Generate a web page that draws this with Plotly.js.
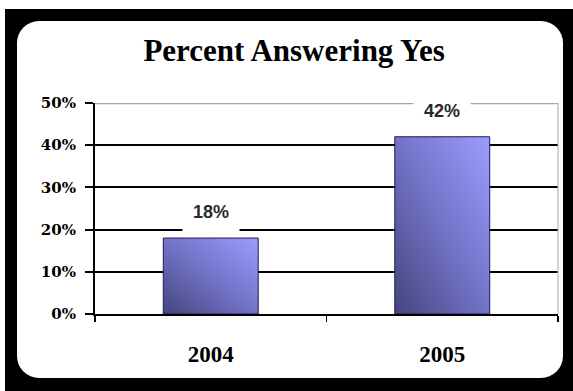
<!DOCTYPE html>
<html>
<head>
<meta charset="utf-8">
<script src="https://cdn.plot.ly/plotly-3.0.1.min.js"></script>
<style>
  html, body { margin: 0; padding: 0; background: #ffffff; width: 573px; height: 391px; overflow: hidden; }
  #frame { position: absolute; left: 5px; top: 9px; width: 568px; height: 382px; background: #000000; }
  #card { position: absolute; left: 17px; top: 21px; width: 546px; height: 357px; background: #ffffff; border-radius: 22px; }
  #chart { position: absolute; left: 0; top: 0; width: 573px; height: 391px; }
</style>
</head>
<body>
<div id="frame"></div>
<div id="card"></div>
<div id="chart"></div>
<script>
// ---- data ----
const categories = ['2004', '2005'];
const values = [18, 42];
const valueLabels = ['18%', '42%'];
const yTickVals = [0, 10, 20, 30, 40, 50];
const yTickText = ['0%', '10%', '20%', '30%', '40%', '50%'];
const chartTitle = 'Percent Answering Yes';

const serif = 'Liberation Serif, Times New Roman, serif';

const trace = {
  type: 'bar',
  x: categories,
  y: values,
  width: 0.41,
  marker: { color: '#7777cc', line: { color: '#1c1c50', width: 1 } },
  hoverinfo: 'none'
};

// category axis: annotation x given as the category index
const annotations = categories.map((c, i) => ({
  x: i, y: values[i], xref: 'x', yref: 'y',
  text: valueLabels[i], showarrow: false,
  yanchor: 'bottom', yshift: 4,
  bgcolor: '#ffffff', width: 54, height: 40, borderpad: 1,
  font: { family: 'Liberation Sans, Arial, sans-serif', size: 18, color: '#2a2a2a', weight: 'bold' }
}));

const layout = {
  width: 573, height: 391,
  margin: { l: 95, r: 15, t: 103, b: 77 },
  paper_bgcolor: 'rgba(0,0,0,0)',
  plot_bgcolor: 'rgba(0,0,0,0)',
  showlegend: false,
  title: {
    text: '<b>' + chartTitle + '</b>',
    font: { family: serif, size: 31, color: '#000000' },
    xref: 'paper', x: 0.43, xanchor: 'center',
    yref: 'container', y: 1 - 50 / 391, yanchor: 'middle'
  },
  xaxis: {
    type: 'category',
    range: [-0.5, categories.length - 0.5],
    showline: true, linecolor: '#000000', linewidth: 2,
    ticks: 'outside', tickson: 'boundaries', ticklen: 6, tickwidth: 1.5, tickcolor: '#000000',
    showgrid: false, zeroline: false,
    tickfont: { family: serif, size: 23, color: '#000000', weight: 'bold' },
    ticklabelstandoff: 18
  },
  yaxis: {
    range: [0, 50],
    tickvals: yTickVals, ticktext: yTickText,
    showline: true, linecolor: '#000000', linewidth: 2,
    ticks: 'outside', ticklen: 8, tickwidth: 2, tickcolor: '#000000',
    showgrid: true, gridcolor: '#000000', gridwidth: 2,
    zeroline: false,
    tickfont: { family: 'DejaVu Serif, serif', size: 15, color: '#000000', weight: 'bold' },
    ticklabelstandoff: 6
  },
  shapes: [
    { type: 'line', xref: 'paper', yref: 'y', x0: 0, x1: 1, y0: 50, y1: 50,
      line: { color: '#a8a8a8', width: 2.5 }, layer: 'above' },
    { type: 'line', xref: 'paper', yref: 'y', x0: 1, x1: 1, y0: 0, y1: 50,
      line: { color: '#a8a8a8', width: 1 }, layer: 'above' }
  ],
  annotations: annotations
};

Plotly.newPlot('chart', [trace], layout, { staticPlot: true, displayModeBar: false }).then(gd => {
  const svg = gd.querySelector('svg.main-svg');
  const ns = 'http://www.w3.org/2000/svg';
  let defs = svg.querySelector('defs');
  if (!defs) { defs = document.createElementNS(ns, 'defs'); svg.insertBefore(defs, svg.firstChild); }
  const grad = document.createElementNS(ns, 'linearGradient');
  grad.setAttribute('id', 'barGrad');
  grad.setAttribute('x1', '0'); grad.setAttribute('y1', '1');
  grad.setAttribute('x2', '1'); grad.setAttribute('y2', '0');
  [['0', '#45457c'], ['0.5', '#7373c8'], ['1', '#9c9cff']].forEach(([o, c]) => {
    const s = document.createElementNS(ns, 'stop');
    s.setAttribute('offset', o); s.setAttribute('stop-color', c);
    grad.appendChild(s);
  });
  defs.appendChild(grad);
  gd.querySelectorAll('.bars .point path').forEach(p => { p.style.fill = 'url(#barGrad)'; });
});
</script>
</body>
</html>
